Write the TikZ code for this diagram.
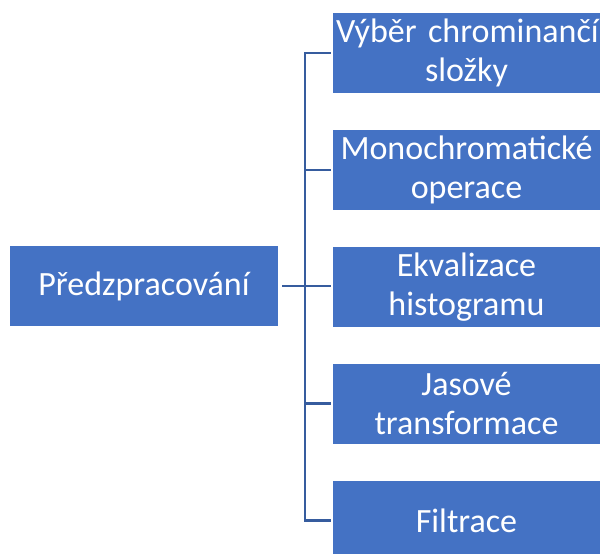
\documentclass[tikz,border=0pt]{standalone}
\usepackage{fontspec}
\setmainfont{Carlito}
\usepackage{tikz}
\usetikzlibrary{positioning}
\definecolor{boxblue}{HTML}{4472C4}
\definecolor{lineblue}{HTML}{365C9E}

\begin{document}
\begin{tikzpicture}[
    x=1pt, y=-1pt,
    box/.style={rectangle, fill=boxblue, text=white, minimum width=267pt, minimum height=80pt, inner sep=0pt, text width=267pt, align=center, font=\fontsize{34}{39}\selectfont},
    link/.style={draw=lineblue, line width=2.8pt},
]
\useasboundingbox (0,0) rectangle (600,554);

% Left box
\node[box, minimum width=268pt, text width=268pt] (pre) at (144,286) {P\v{r}edzpracov\'an\'i};

% Right column
\node[box] (vyber) at (466.5,53) {\makebox[\linewidth][l]{\hspace{3pt}V\'yb\v{e}r chrominan\v{c}\'i}\\slo\v{z}ky};
\node[box, below=36.5pt of vyber] (mono) {Monochromatick\'e\\operace};
\node[box, below=36.5pt of mono] (ekv) {Ekvalizace\\histogramu};
\node[box, below=36.5pt of ekv] (jas) {Jasov\'e\\transformace};
\node[box, below=36.5pt of jas] (filt) {Filtrace};

% Connectors
\coordinate (trunk) at (305,286);
\draw[link, shorten <=4pt] (pre.east) -- ([xshift=-2pt]pre.east -| ekv.west);
\draw[link] ([xshift=-2pt]vyber.west) -| (trunk) |- ([xshift=-2pt]filt.west);
\draw[link] ([xshift=-2pt]mono.west) -- (mono.west -| trunk);
\draw[link] ([xshift=-2pt]jas.west) -- (jas.west -| trunk);

\end{tikzpicture}
\end{document}
